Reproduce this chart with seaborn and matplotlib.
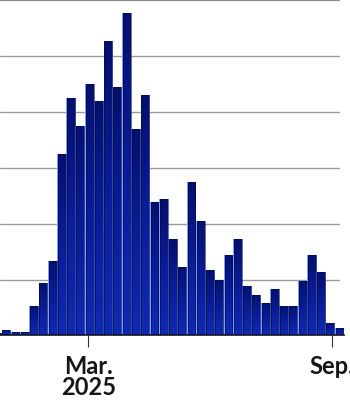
import numpy as np
import pandas as pd
import matplotlib
matplotlib.use("Agg")
import matplotlib.pyplot as plt
import matplotlib.dates as mdates
from matplotlib.colors import LinearSegmentedColormap
import seaborn as sns

# ---- data (weekly values; one gridline = 10) ----
week_dates = pd.date_range("2024-12-22", periods=38, freq="7D")
weekly_values = [0.4, 0.9, 0.6, 0.6, 5.3, 9.4, 13.4, 32.5, 42.5, 37.5,
                 45.0, 42.0, 52.6, 44.5, 57.6, 36.9, 43.0, 23.9, 24.4, 17.3,
                 12.3, 27.4, 20.4, 11.8, 9.9, 14.4, 17.3, 8.8, 7.3, 5.8,
                 8.4, 5.3, 5.3, 9.8, 14.4, 11.4, 2.3, 1.3]
grid_levels = [10, 20, 30, 40, 50, 60]
tick_dates = ["2025-03-01", "2025-09-01"]
tick_labels = ["Mar.\n2025", "Sep."]

sns.set_theme(style="white")
plt.rcParams["font.family"] = ["Lato", "DejaVu Sans"]

fig = plt.figure(figsize=(3.5, 4.06), dpi=100)
ax = fig.add_axes([0, 0.1712, 344.3 / 350, 0.8402])

df = pd.DataFrame({"t": mdates.date2num(week_dates),
                   "value": np.asarray(weekly_values, dtype=float)})
edges = list(np.append(df["t"].values - 3.5, df["t"].values[-1] + 3.5))

# light underlay (shows through the thin gaps between bars)
sns.histplot(data=df, x="t", weights="value", bins=edges, color="#7c9cf6",
             alpha=1, linewidth=0, ax=ax)
n_under = len(ax.patches)
for p in ax.patches[:n_under]:
    p.set_facecolor("#7c9cf6")
    p.set_edgecolor("none")
    p.set_zorder(1)

# main bars
sns.histplot(data=df, x="t", weights="value", bins=edges, shrink=0.85,
             color="#0a1c94", ax=ax)

cmap = LinearSegmentedColormap.from_list(
    "bar", ["#0e2ab2", "#0a1d98", "#050f6c"])
grad = np.linspace(0, 1, 256).reshape(-1, 1)
for p in ax.patches[n_under:]:
    p.set_facecolor("none")
    p.set_edgecolor("#000845")
    p.set_linewidth(0.4)
    p.set_zorder(3)
    x0, w, h = p.get_x(), p.get_width(), p.get_height()
    if h <= 0:
        continue
    im = ax.imshow(grad, extent=[x0, x0 + w, 0, h], origin="lower",
                   aspect="auto", cmap=cmap, zorder=2, interpolation="bilinear")
    im.set_clip_path(p)

ax.set_xlim(mdates.date2num(pd.Timestamp("2024-12-24 06:00")),
            mdates.date2num(pd.Timestamp("2025-09-10 12:00")))
ax.set_ylim(0, 61)

# gridlines
for lv in grid_levels:
    top = lv == grid_levels[-1]
    ax.axhline(lv, xmin=0, xmax=339.3 / 344.3,
               color="#8a8a8a" if top else "#9a9a9a",
               linewidth=1.6 if top else 1.0, zorder=0.5)

ax.set_yticks([])
ax.set_ylabel("")
ax.set_xlabel("")
ax.set_xticks(mdates.date2num(pd.to_datetime(tick_dates)))
ax.set_xticklabels(tick_labels, fontsize=17, fontweight="bold",
                   color="#161616", linespacing=0.88)
ax.tick_params(axis="x", bottom=True, length=8.3, width=0.8,
               color="#333333", pad=5)

for s in ["left", "right", "top"]:
    ax.spines[s].set_visible(False)
ax.spines["bottom"].set_color("#141428")
ax.spines["bottom"].set_linewidth(1.2)
ax.spines["bottom"].set_zorder(4)
ax.set_facecolor("white")

fig.savefig("out.png", dpi=100)
